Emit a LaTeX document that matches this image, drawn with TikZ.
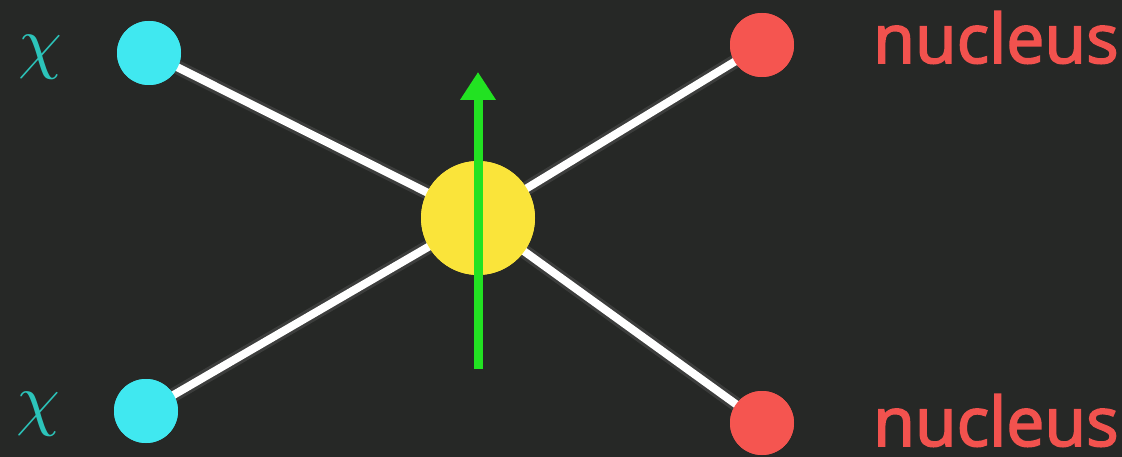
\documentclass[tikz,border=0pt]{standalone}
\usepackage{fontspec}
\usepackage{graphicx}
\newfontfamily\nucfont[FakeBold=2.5]{Open Sans}
\usetikzlibrary{arrows.meta}
\definecolor{bg}{RGB}{38,40,38}
\definecolor{chicyan}{RGB}{64,232,240}
\definecolor{chitext}{RGB}{44,196,186}
\definecolor{nucred}{RGB}{245,85,80}
\definecolor{nuctext}{RGB}{242,82,78}
\definecolor{vyellow}{RGB}{250,228,58}
\definecolor{agreen}{RGB}{34,226,34}
\tikzset{
  dot/.style={circle,inner sep=0pt,minimum size=64pt,draw=none},
  chidot/.style={dot,fill=chicyan},
  nucdot/.style={dot,fill=nucred},
  vertex/.style={circle,inner sep=0pt,minimum size=114pt,fill=vyellow},
  leg/.style={draw=white,line width=8pt},
  leghalo/.style={draw=white,line width=14pt,opacity=0.10},
  chilabel/.style={text=chitext,inner sep=0pt},
  nuclabel/.style={text=nuctext,font=\nucfont\fontsize{68}{68}\selectfont,inner sep=0pt,text depth=0pt,anchor=base west},
  spinarrow/.style={draw=agreen,line width=9pt,-{Triangle[width=34pt,length=28pt]}}
}
\begin{document}
\begin{tikzpicture}[x=1pt,y=-1pt]
\fill[bg] (0,0) rectangle (1122,457);
\useasboundingbox (0,0) rectangle (1122,457);
% vertex and external particles
\node[chidot] (c1) at (149,53) {};
\node[chidot] (c2) at (146,411) {};
\node[nucdot] (n1) at (762,45) {};
\node[nucdot] (n2) at (762,423) {};
\node[vertex] (v) at (478,218) {};
% legs
\draw[leghalo] (c1.center) -- (v.center);
\draw[leghalo] (c2.center) -- (v.center);
\draw[leghalo] (n1.center) -- (v.center);
\draw[leghalo] (n2.center) -- (v.center);
\draw[leg] (c1.center) -- (v.center);
\draw[leg] (c2.center) -- (v.center);
\draw[leg] (n1.center) -- (v.center);
\draw[leg] (n2.center) -- (v.center);
% redraw dots on top
\foreach \n/\c in {c1/chicyan,c2/chicyan,n1/nucred,n2/nucred}{
  \fill[\c] (\n.center) circle (32pt);
}
\fill[vyellow] (v.center) circle (57pt);
% spin arrow
\coordinate (a0) at (478,369);
\coordinate (a1) at (478,72);
\draw[spinarrow] (a0) -- (a1);
% labels
\node[chilabel] (l1) at (40,57) {\scalebox{7}{$\chi$}};
\node[chilabel] (l2) at (38,414) {\scalebox{7}{$\chi$}};
\node[nuclabel] (t1) at (873,63) {nucleus};
\node[nuclabel] (t2) at (873,446) {nucleus};
\end{tikzpicture}
\end{document}
